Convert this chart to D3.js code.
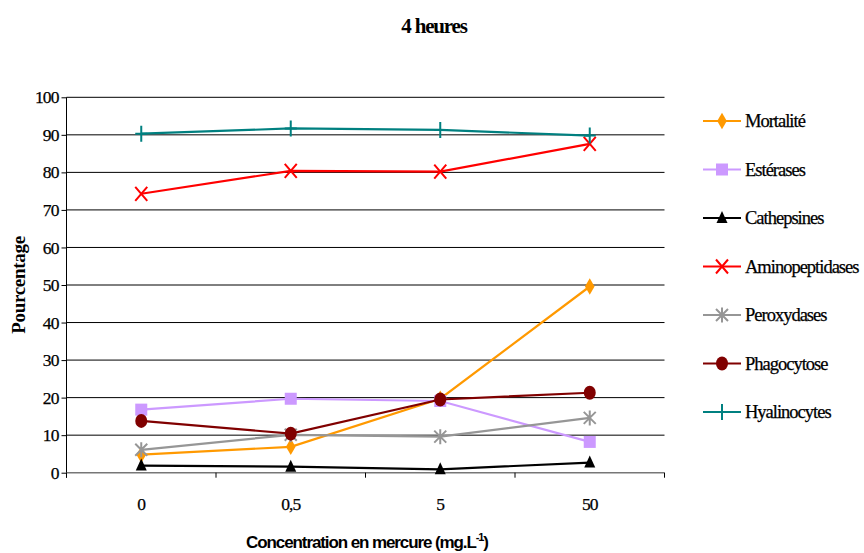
<!DOCTYPE html>
<html>
<head>
<meta charset="utf-8">
<script src="https://cdn.jsdelivr.net/npm/d3@7"></script>
<style>
  html, body { margin: 0; padding: 0; background: #fff; }
  svg { display: block; }
</style>
</head>
<body>
<svg id="chart" width="864" height="553"></svg>
<script>
// Concentrations tested (x categories)
const concentrations = ["0", "0,5", "5", "50"];

// Percentage values for each measured parameter
const mortalite       = [4.8, 6.9, 19.7, 49.6];
const esterases       = [16.8, 19.7, 19.1, 8.2];
const cathepsines     = [1.9, 1.6, 0.9, 2.7];
const aminopeptidases = [74.3, 80.4, 80.2, 87.6];
const peroxydases     = [6.1, 10.1, 9.6, 14.6];
const phagocytose     = [13.8, 10.4, 19.5, 21.3];
const hyalinocytes    = [90.3, 91.7, 91.3, 89.8];

const seriesNames = ["Mortalité", "Estérases", "Cathepsines", "Aminopeptidases",
                     "Peroxydases", "Phagocytose", "Hyalinocytes"];
const seriesValues = [mortalite, esterases, cathepsines, aminopeptidases,
                      peroxydases, phagocytose, hyalinocytes];
const seriesColors = ["#FF9900", "#CC99FF", "#000000", "#FF0000",
                      "#969696", "#800000", "#008080"];
const seriesMarkers = ["diamond", "square", "triangle", "x", "asterisk", "circle", "plus"];

const yTicks = [0, 10, 20, 30, 40, 50, 60, 70, 80, 90, 100];

const SERIF = "'Liberation Serif', 'Times New Roman', serif";
const SANS = "'Liberation Sans', Arial, sans-serif";

const svg = d3.select("#chart");

const plot = { left: 66.5, right: 664.5, top: 97.3, bottom: 472.7 };

const x = d3.scaleBand()
  .domain(concentrations)
  .range([plot.left, plot.right])
  .paddingInner(0).paddingOuter(0);

const y = d3.scaleLinear()
  .domain([0, 100])
  .range([plot.bottom, plot.top]);

// Horizontal gridlines
svg.append("g")
  .selectAll("line")
  .data(yTicks.filter(d => d > 0))
  .join("line")
  .attr("x1", plot.left).attr("x2", plot.right)
  .attr("y1", d => y(d)).attr("y2", d => y(d))
  .attr("stroke", "#000").attr("stroke-width", 1);

// Y axis
const yAxis = svg.append("g")
  .attr("transform", `translate(${plot.left},0)`)
  .call(d3.axisLeft(y).tickValues(yTicks).tickSize(5).tickPadding(3).tickFormat(d3.format("d")));
yAxis.attr("font-family", null).attr("font-size", null);
yAxis.select(".domain").attr("d", `M0,${plot.top}V${plot.bottom + 5}`).attr("stroke", "#000");
yAxis.selectAll(".tick line").attr("stroke", "#000");
yAxis.selectAll(".tick text")
  .style("font-family", SERIF)
  .style("font-size", "17.5px")
  .style("letter-spacing", "-0.9px")
  .attr("fill", "#000")
  .attr("stroke", "#000").attr("stroke-width", 0.25);

// X axis with tick marks at category boundaries
const xAxisG = svg.append("g").attr("transform", `translate(0,${plot.bottom})`);
xAxisG.append("line")
  .attr("x1", plot.left).attr("x2", plot.right)
  .attr("y1", 0).attr("y2", 0)
  .attr("stroke", "#777").attr("stroke-width", 1.4);
const boundaries = concentrations.map(c => x(c)).concat([x(concentrations[concentrations.length - 1]) + x.bandwidth()]);
xAxisG.selectAll("line.tk")
  .data(boundaries)
  .join("line")
  .attr("class", "tk")
  .attr("x1", d => d).attr("x2", d => d)
  .attr("y1", 0).attr("y2", 5)
  .attr("stroke", "#000");
xAxisG.selectAll("text")
  .data(concentrations)
  .join("text")
  .attr("x", d => x(d) + x.bandwidth() / 2)
  .attr("y", 37)
  .attr("text-anchor", "middle")
  .style("font-family", SERIF)
  .style("font-size", "17.5px")
  .style("letter-spacing", "-0.9px")
  .attr("stroke", "#000").attr("stroke-width", 0.25)
  .text(d => d);

// Title
svg.append("text")
  .attr("x", 434).attr("y", 33)
  .attr("text-anchor", "middle")
  .style("font-family", SERIF)
  .style("font-size", "21px")
  .style("font-weight", "bold")
  .style("letter-spacing", "-1.2px")
  .text("4 heures");

// Y axis title
svg.append("text")
  .attr("transform", "translate(25,285) rotate(-90)")
  .attr("text-anchor", "middle")
  .style("font-family", SERIF)
  .style("font-size", "19px")
  .style("font-weight", "bold")
  .style("letter-spacing", "-0.3px")
  .text("Pourcentage");

// X axis title with superscript
const xt = svg.append("text")
  .attr("x", 367).attr("y", 548)
  .attr("text-anchor", "middle")
  .style("font-family", SANS)
  .style("font-size", "17px")
  .style("font-weight", "bold")
  .style("letter-spacing", "-1.1px");
xt.append("tspan").text("Concentration en mercure (mg.L");
xt.append("tspan").attr("dy", -7).style("font-size", "11px").text("-1");
xt.append("tspan").attr("dy", 7).text(")");

// Marker drawing
function drawMarker(g, type, color) {
  switch (type) {
    case "diamond":
      g.append("path").attr("d", d3.symbol(d3.symbolDiamond, 80)()).attr("fill", color);
      break;
    case "square":
      g.append("rect").attr("x", -6).attr("y", -6).attr("width", 12).attr("height", 12).attr("fill", color);
      break;
    case "triangle":
      g.append("path").attr("d", "M0,-7L5.5,5L-5.5,5Z").attr("fill", color);
      break;
    case "circle":
      g.append("ellipse").attr("rx", 6).attr("ry", 7).attr("fill", color);
      break;
    case "x":
      g.append("path").attr("d", "M-6,-7L6,7M-6,7L6,-7").attr("stroke", color).attr("stroke-width", 2).attr("fill", "none");
      break;
    case "asterisk":
      g.append("path").attr("d", "M-6,-6L6,6M-6,6L6,-6M0,-7.5L0,7.5").attr("stroke", color).attr("stroke-width", 2).attr("fill", "none");
      break;
    case "plus":
      g.append("path").attr("d", "M-6,0L6,0M0,-8L0,8").attr("stroke", color).attr("stroke-width", 2).attr("fill", "none");
      break;
  }
}

// Series lines and markers
const line = d3.line()
  .x((d, i) => x(concentrations[i]) + x.bandwidth() / 2)
  .y(d => y(d));

seriesValues.forEach((vals, si) => {
  const g = svg.append("g");
  g.append("path")
    .datum(vals)
    .attr("d", line)
    .attr("fill", "none")
    .attr("stroke", seriesColors[si])
    .attr("stroke-width", 2.2);
  vals.forEach((v, i) => {
    const m = g.append("g")
      .attr("transform", `translate(${x(concentrations[i]) + x.bandwidth() / 2},${y(v)})`);
    drawMarker(m, seriesMarkers[si], seriesColors[si]);
  });
});

// Legend
const legend = svg.append("g");
seriesNames.forEach((name, i) => {
  const ly = 121 + i * 48.5;
  const g = legend.append("g").attr("transform", `translate(0,${ly})`);
  g.append("line")
    .attr("x1", 703).attr("x2", 741)
    .attr("y1", 0).attr("y2", 0)
    .attr("stroke", seriesColors[i]).attr("stroke-width", 2.2);
  const m = g.append("g").attr("transform", "translate(722,0)");
  drawMarker(m, seriesMarkers[i], seriesColors[i]);
  g.append("text")
    .attr("x", 745).attr("y", 6)
    .style("font-family", SERIF)
    .style("font-size", "18.5px")
    .style("letter-spacing", "-1px")
    .attr("stroke", "#000").attr("stroke-width", 0.25)
    .text(name);
});
</script>
</body>
</html>
